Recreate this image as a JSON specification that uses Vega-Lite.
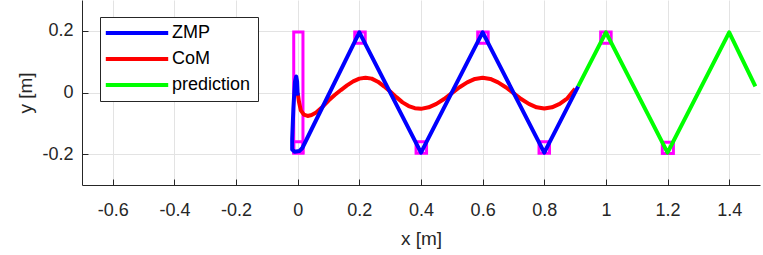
{
  "$schema": "https://vega.github.io/schema/vega-lite/v6.json",
  "width": 678,
  "height": 185,
  "autosize": {"type": "none"},
  "padding": {"left": 82, "top": 0, "right": 3, "bottom": 70},
  "background": "white",
  "datasets": {
    "feet": [
      {"x1": -0.013, "x2": 0.017, "y1": -0.196, "y2": 0.196},
      {"x1": -0.013, "x2": 0.017, "y1": -0.196, "y2": -0.16},
      {"x1": 0.185, "x2": 0.219, "y1": 0.16, "y2": 0.196},
      {"x1": 0.384, "x2": 0.418, "y1": -0.197, "y2": -0.16},
      {"x1": 0.584, "x2": 0.618, "y1": 0.16, "y2": 0.196},
      {"x1": 0.783, "x2": 0.817, "y1": -0.197, "y2": -0.16},
      {"x1": 0.983, "x2": 1.017, "y1": 0.16, "y2": 0.196},
      {"x1": 1.183, "x2": 1.219, "y1": -0.198, "y2": -0.161}
    ],
    "com": [
      {"i": 0, "series": "CoM", "x": 0.0, "y": -0.002},
      {"i": 1, "series": "CoM", "x": 0.004, "y": -0.03},
      {"i": 2, "series": "CoM", "x": 0.01, "y": -0.058},
      {"i": 3, "series": "CoM", "x": 0.02, "y": -0.072},
      {"i": 4, "series": "CoM", "x": 0.032, "y": -0.076},
      {"i": 5, "series": "CoM", "x": 0.045, "y": -0.073},
      {"i": 6, "series": "CoM", "x": 0.06, "y": -0.065},
      {"i": 7, "series": "CoM", "x": 0.08, "y": -0.047},
      {"i": 8, "series": "CoM", "x": 0.1, "y": -0.026},
      {"i": 9, "series": "CoM", "x": 0.12, "y": -0.008},
      {"i": 10, "series": "CoM", "x": 0.14, "y": 0.008},
      {"i": 11, "series": "CoM", "x": 0.16, "y": 0.023},
      {"i": 12, "series": "CoM", "x": 0.18, "y": 0.036},
      {"i": 13, "series": "CoM", "x": 0.2, "y": 0.045},
      {"i": 14, "series": "CoM", "x": 0.22, "y": 0.048},
      {"i": 15, "series": "CoM", "x": 0.24, "y": 0.045},
      {"i": 16, "series": "CoM", "x": 0.26, "y": 0.035},
      {"i": 17, "series": "CoM", "x": 0.28, "y": 0.02},
      {"i": 18, "series": "CoM", "x": 0.3, "y": 0.003},
      {"i": 19, "series": "CoM", "x": 0.32, "y": -0.015},
      {"i": 20, "series": "CoM", "x": 0.34, "y": -0.032},
      {"i": 21, "series": "CoM", "x": 0.36, "y": -0.044},
      {"i": 22, "series": "CoM", "x": 0.38, "y": -0.051},
      {"i": 23, "series": "CoM", "x": 0.4, "y": -0.053},
      {"i": 24, "series": "CoM", "x": 0.425, "y": -0.048},
      {"i": 25, "series": "CoM", "x": 0.45, "y": -0.037},
      {"i": 26, "series": "CoM", "x": 0.475, "y": -0.021},
      {"i": 27, "series": "CoM", "x": 0.5, "y": -0.002},
      {"i": 28, "series": "CoM", "x": 0.525, "y": 0.017},
      {"i": 29, "series": "CoM", "x": 0.55, "y": 0.033},
      {"i": 30, "series": "CoM", "x": 0.575, "y": 0.044},
      {"i": 31, "series": "CoM", "x": 0.6, "y": 0.048},
      {"i": 32, "series": "CoM", "x": 0.625, "y": 0.044},
      {"i": 33, "series": "CoM", "x": 0.65, "y": 0.033},
      {"i": 34, "series": "CoM", "x": 0.675, "y": 0.017},
      {"i": 35, "series": "CoM", "x": 0.7, "y": -0.002},
      {"i": 36, "series": "CoM", "x": 0.725, "y": -0.021},
      {"i": 37, "series": "CoM", "x": 0.75, "y": -0.037},
      {"i": 38, "series": "CoM", "x": 0.775, "y": -0.048},
      {"i": 39, "series": "CoM", "x": 0.8, "y": -0.052},
      {"i": 40, "series": "CoM", "x": 0.825, "y": -0.048},
      {"i": 41, "series": "CoM", "x": 0.85, "y": -0.037},
      {"i": 42, "series": "CoM", "x": 0.875, "y": -0.019},
      {"i": 43, "series": "CoM", "x": 0.9, "y": 0.012}
    ],
    "zmp": [
      {"i": 0, "series": "ZMP", "x": 0.0, "y": -0.01},
      {"i": 1, "series": "ZMP", "x": -0.002, "y": 0.035},
      {"i": 2, "series": "ZMP", "x": -0.005, "y": 0.052},
      {"i": 3, "series": "ZMP", "x": -0.009, "y": 0.035},
      {"i": 4, "series": "ZMP", "x": -0.014, "y": -0.05},
      {"i": 5, "series": "ZMP", "x": -0.018, "y": -0.15},
      {"i": 6, "series": "ZMP", "x": -0.018, "y": -0.185},
      {"i": 7, "series": "ZMP", "x": -0.01, "y": -0.192},
      {"i": 8, "series": "ZMP", "x": 0.005, "y": -0.19},
      {"i": 9, "series": "ZMP", "x": 0.015, "y": -0.18},
      {"i": 10, "series": "ZMP", "x": 0.2, "y": 0.195},
      {"i": 11, "series": "ZMP", "x": 0.4, "y": -0.195},
      {"i": 12, "series": "ZMP", "x": 0.6, "y": 0.195},
      {"i": 13, "series": "ZMP", "x": 0.8, "y": -0.195},
      {"i": 14, "series": "ZMP", "x": 0.91, "y": 0.02}
    ],
    "pred": [
      {"i": 0, "series": "prediction", "x": 0.91, "y": 0.02},
      {"i": 1, "series": "prediction", "x": 1.0, "y": 0.195},
      {"i": 2, "series": "prediction", "x": 1.2, "y": -0.195},
      {"i": 3, "series": "prediction", "x": 1.4, "y": 0.195},
      {"i": 4, "series": "prediction", "x": 1.485, "y": 0.02}
    ]
  },
  "layer": [
    {
      "data": {"name": "feet"},
      "mark": {"type": "rect", "fill": null, "stroke": "#ff00ff", "strokeWidth": 3},
      "encoding": {
        "x": {"field": "x1", "type": "quantitative"},
        "x2": {"field": "x2"},
        "y": {"field": "y1", "type": "quantitative"},
        "y2": {"field": "y2"}
      }
    },
    {
      "data": {"name": "com"},
      "mark": {"type": "line", "strokeWidth": 4, "strokeJoin": "round"},
      "encoding": {
        "x": {"field": "x", "type": "quantitative"},
        "y": {"field": "y", "type": "quantitative"},
        "order": {"field": "i"},
        "color": {"field": "series", "type": "nominal"}
      }
    },
    {
      "data": {"name": "zmp"},
      "mark": {"type": "line", "strokeWidth": 4, "strokeJoin": "round"},
      "encoding": {
        "x": {"field": "x", "type": "quantitative"},
        "y": {"field": "y", "type": "quantitative"},
        "order": {"field": "i"},
        "color": {"field": "series", "type": "nominal"}
      }
    },
    {
      "data": {"name": "pred"},
      "mark": {"type": "line", "strokeWidth": 4, "strokeJoin": "round"},
      "encoding": {
        "x": {"field": "x", "type": "quantitative"},
        "y": {"field": "y", "type": "quantitative"},
        "order": {"field": "i"},
        "color": {"field": "series", "type": "nominal"}
      }
    }
  ],
  "encoding": {
    "x": {
      "type": "quantitative",
      "scale": {"domain": [-0.7, 1.5], "nice": false, "zero": false},
      "axis": {
        "title": "x [m]",
        "values": [-0.6, -0.4, -0.2, 0, 0.2, 0.4, 0.6, 0.8, 1, 1.2, 1.4],
        "labelExpr": "datum.value < 0 ? '-' + format(-datum.value, '~g') : format(datum.value, '~g')",
        "labelPadding": 22,
        "titlePadding": 10
      }
    },
    "y": {
      "type": "quantitative",
      "scale": {"domain": [-0.3, 0.3], "nice": false, "zero": false},
      "axis": {
        "title": "y [m]",
        "values": [-0.2, 0, 0.2],
        "labelExpr": "datum.value < 0 ? '-' + format(-datum.value, '~g') : format(datum.value, '~g')",
        "labelPadding": 15,
        "titlePadding": 6
      }
    },
    "color": {
      "type": "nominal",
      "scale": {"domain": ["ZMP", "CoM", "prediction"], "range": ["#0000ff", "#ff0000", "#00ff00"]},
      "legend": {
        "title": null,
        "orient": "none",
        "legendX": 18,
        "legendY": 17,
        "symbolType": "M-0.2,0H10.2",
        "symbolSize": 144,
        "symbolOffset": -9,
        "symbolStrokeWidth": 4
      }
    }
  },
  "config": {
    "view": {"stroke": null},
    "font": "Liberation Sans",
    "axis": {
      "labelFont": "Liberation Sans",
      "labelFontSize": 18,
      "labelColor": "#262626",
      "titleFont": "Liberation Sans",
      "titleFontSize": 19,
      "titleFontWeight": "normal",
      "titleColor": "#262626",
      "domainColor": "#262626",
      "domainWidth": 1,
      "tickColor": "#262626",
      "tickSize": -6,
      "tickWidth": 1,
      "grid": true,
      "gridColor": "#e3e3e3",
      "gridWidth": 1
    },
    "legend": {
      "fillColor": "white",
      "strokeColor": "#262626",
      "strokeWidth": 1,
      "padding": 7,
      "labelFont": "Liberation Sans",
      "labelFontSize": 18,
      "labelColor": "#000000",
      "labelOffset": 56,
      "rowPadding": 8,
      "cornerRadius": 0
    }
  }
}
